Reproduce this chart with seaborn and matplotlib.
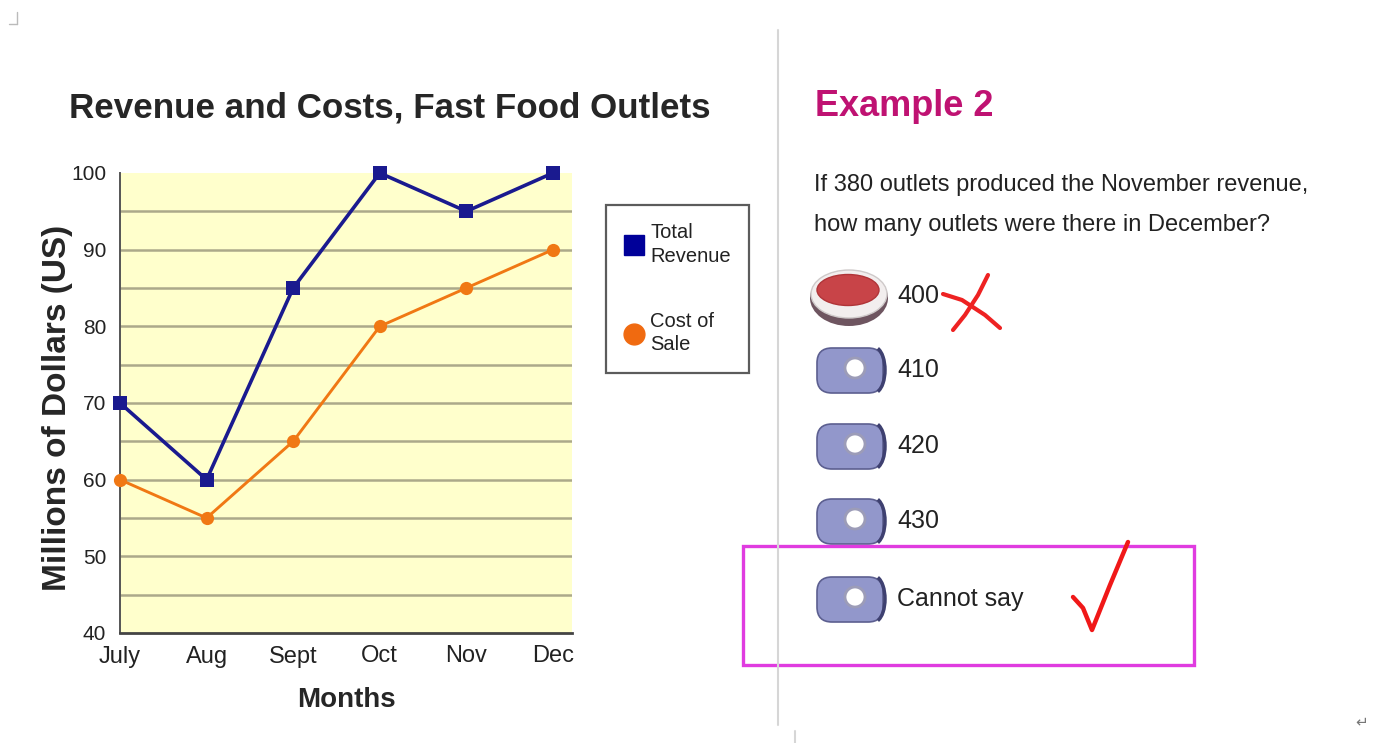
import matplotlib
matplotlib.use("Agg")
import matplotlib.pyplot as plt
import seaborn as sns
import pandas as pd
import numpy as np
from matplotlib.lines import Line2D
from matplotlib.patches import Ellipse, FancyBboxPatch, Circle, Rectangle, Arc

# Chart data
months = ["July", "Aug", "Sept", "Oct", "Nov", "Dec"]
total_revenue = [70, 60, 85, 100, 95, 100]
cost_of_sale = [60, 55, 65, 80, 85, 90]

# Quiz text
question = ["If 380 outlets produced the November revenue,",
            "how many outlets were there in December?"]
options = ["400", "410", "420", "430", "Cannot say"]
option_rows = [296, 370, 446, 521, 599]

sns.set_style("white")
plt.rcParams["font.family"] = ["Liberation Sans", "DejaVu Sans"]

fig = plt.figure(figsize=(13.86, 7.43), dpi=100)

# overlay in pixel coordinates for the page decorations
page = fig.add_axes([0, 0, 1, 1], zorder=0)
page.set_xlim(0, 1386)
page.set_ylim(743, 0)
page.axis("off")

ax = fig.add_axes([120 / 1386, 1 - 633 / 743, 452 / 1386, 460 / 743], zorder=1)
ax.set_facecolor("#ffffcc")

df = pd.DataFrame({"Month": months, "Revenue": total_revenue, "Cost": cost_of_sale})

for lvl in np.arange(45, 100, 5):
    ax.axhline(lvl, color="#aca98a", lw=1.8, zorder=1)

sns.lineplot(data=df, x="Month", y="Revenue", ax=ax, color="#1a1a8f", lw=2.6,
             marker="s", markersize=9.5, markeredgewidth=0, clip_on=False, zorder=3)
sns.lineplot(data=df, x="Month", y="Cost", ax=ax, color="#f07814", lw=2.1,
             marker="o", markersize=9.5, markeredgewidth=0, clip_on=False, zorder=3)

ax.set_xlim(0, 5.22)
ax.set_ylim(40, 100)
ax.set_yticks(range(40, 101, 10))
ax.tick_params(axis="y", direction="in", length=8, width=1.4, color="#444444",
               labelsize=15, pad=10)
ax.tick_params(axis="x", direction="in", length=9, width=1.4, color="#444444",
               labelsize=17, pad=9)
for lab in ax.get_xticklabels() + ax.get_yticklabels():
    lab.set_color("#222222")
for s in ["top", "right"]:
    ax.spines[s].set_visible(False)
ax.spines["left"].set_color("#555555")
ax.spines["left"].set_linewidth(1.4)
ax.spines["bottom"].set_color("#444444")
ax.spines["bottom"].set_linewidth(2.0)

ax.set_xlabel("Months", fontsize=20, fontweight="bold", labelpad=14)
ax.set_ylabel("Millions of Dollars (US)", fontsize=24, fontweight="bold")
ax.yaxis.set_label_coords(-0.105, 0.49)
fig.text(390 / 1386, 1 - 108 / 743, "Revenue and Costs, Fast Food Outlets",
         fontsize=25.2, fontweight="bold", ha="center", va="center")

handles = [Line2D([], [], marker="s", ls="none", color="#000099", markersize=15),
           Line2D([], [], marker="o", ls="none", color="#f06a10", markersize=15)]
leg = ax.legend(handles, ["Total\nRevenue", "Cost of\nSale"], loc="upper left",
                bbox_to_anchor=(606 / 1386, 1 - 205 / 743), bbox_transform=fig.transFigure,
                borderaxespad=0, fontsize=14.5, frameon=True, fancybox=False,
                edgecolor="#333333", labelspacing=2.3, handletextpad=0.3,
                borderpad=0.9, handlelength=1.0)
leg.get_frame().set_linewidth(1.6)
for t in leg.get_texts():
    t.set_linespacing(1.3)
    t.set_color("#222222")

# separator and page marks
page.plot([778, 778], [30, 725], color="#d6d6d6", lw=1.5)
page.plot([795, 795], [731, 743], color="#d6d6d6", lw=1.5)
page.plot([17, 17], [12, 24], color="#bbbbbb", lw=1)
page.plot([9, 17], [24, 24], color="#bbbbbb", lw=1)
page.text(1362, 722, "↵", fontsize=11, color="#777777", ha="center", va="center",
          family=["DejaVu Sans"])

# right hand panel
page.text(815, 106, "Example 2", fontsize=26, fontweight="bold", color="#bf1272",
          va="center", ha="left")
for i, line in enumerate(question):
    page.text(814, 185 + i * 40, line, fontsize=17, color="#222222", va="center")

for i, (opt, yy) in enumerate(zip(options, option_rows)):
    page.text(897, yy, opt, fontsize=18, color="#222222", va="center")
    if i == 0:
        page.add_patch(Ellipse((849, yy + 2), 78, 56, facecolor="#6e5560", edgecolor="none"))
        page.add_patch(Ellipse((849, yy - 2), 76, 48, facecolor="#f2eeee", edgecolor="#cfcaca", lw=1))
        page.add_patch(Ellipse((848, yy - 6), 62, 31, facecolor="#c84448", edgecolor="#b03438", lw=1))
    else:
        page.add_patch(FancyBboxPatch((819, yy - 20), 62, 41, boxstyle="round,pad=2,rounding_size=15",
                                      facecolor="#9297cb", edgecolor="#5c5f90", lw=1.2))
        page.add_patch(Arc((874, yy), 22, 46, theta1=-80, theta2=80, color="#3e4070", lw=2.5))
        page.add_patch(Circle((855, yy - 2), 10, facecolor="white", edgecolor="#9c9cb8", lw=2))

# wrong and right marks
page.plot([943, 962, 985, 1000], [294, 300, 315, 328], color="#ee2222", lw=3,
          solid_capstyle="round")
page.plot([953, 965, 978, 988], [330, 315, 295, 275], color="#ee2222", lw=3,
          solid_capstyle="round")
page.plot([1073, 1083, 1092, 1110, 1128], [597, 608, 630, 585, 542], color="#f01818",
          lw=3.2, solid_capstyle="round", solid_joinstyle="round")
page.add_patch(Rectangle((743, 546), 451, 119, facecolor="none", edgecolor="#e03ce0", lw=2.4))

fig.savefig("out.png", dpi=100, facecolor="white")
